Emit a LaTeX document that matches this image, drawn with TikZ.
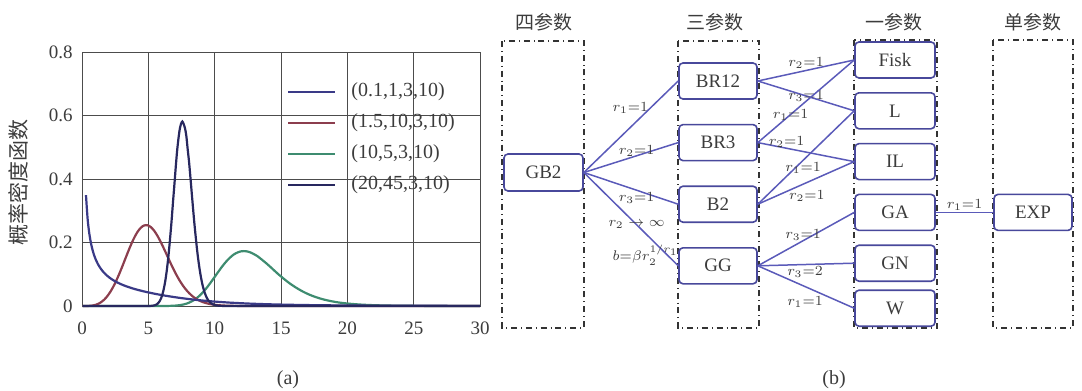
\documentclass[tikz,border=0pt]{standalone}
\usepackage{fontspec}
\setmainfont{Liberation Serif}
\newfontfamily\cjk{Noto Sans CJK SC}
\usetikzlibrary{positioning}

\definecolor{edgeblue}{RGB}{90,90,185}
\definecolor{boxblue}{RGB}{72,72,155}
\definecolor{curvenavy}{RGB}{58,58,135}
\definecolor{curvered}{RGB}{140,62,78}
\definecolor{curvegreen}{RGB}{62,140,112}
\definecolor{curvedark}{RGB}{40,40,95}
\definecolor{inkgray}{RGB}{60,60,60}

\tikzset{
  distbox/.style={rectangle, draw=boxblue, line width=0.8pt, rounded corners=2pt,
    minimum width=39pt, minimum height=18pt, font=\fontsize{9.5}{11}\selectfont, text=inkgray},
  frame/.style={draw=black!80, dash dot, line width=0.6pt},
  link/.style={draw=edgeblue, line width=0.75pt},
  lbl/.style={font=\fontsize{7.5}{8}\selectfont, inner sep=0.5pt, text=inkgray},
  head/.style={font=\cjk\fontsize{9.5}{10}\selectfont, text=inkgray},
  gridline/.style={draw=black!70, line width=0.5pt},
  ticklbl/.style={font=\fontsize{9.5}{11}\selectfont, text=inkgray, inner sep=0pt},
  curve/.style={line width=1.1pt},
  legtext/.style={font=\fontsize{10}{11}\selectfont, text=inkgray, anchor=west, inner sep=0pt},
}

\begin{document}
\begin{tikzpicture}[x=0.5pt, y=-0.5pt,
  declare function={gbt(\x,\p,\q,\m)=exp(max(ln(3)+(3*\p-1)*ln(\x)-3*\p*ln(10)-\m-(\p+\q)*ln(1+(\x/10)^3),-12));}]
\useasboundingbox (0,0) rectangle (1082,391);

% (a) density curves
\begin{scope}[shift={(82,306)}, xscale=13.27, yscale=-317.5]
\foreach \gx in {5,10,...,25}
  \draw[gridline] (\gx,0) -- (\gx,0.8);
\foreach \gy in {0.2,0.4,0.6}
  \draw[gridline] (0,\gy) -- (30,\gy);
\draw[gridline] (0,0) rectangle (30,0.8);
\foreach \gx in {0,5,...,30}
  \node[ticklbl] at (\gx,-0.069) {\gx};
\foreach \gy in {0,0.2,0.4,0.6,0.8}
  \node[ticklbl, anchor=east] at (-0.68,\gy) {\gy};
\draw[curve, curvegreen] plot[domain=0.05:30, samples=240, smooth] (\x, {gbt(\x,10,5,-9.211340)});
\draw[curve, curvered] plot[domain=0.05:30, samples=240, smooth] (\x, {gbt(\x,1.5,10,-3.610960)});
\draw[curve, curvenavy] plot[domain=0.3:30, samples=240, smooth] (\x, {gbt(\x,0.1,1,2.302585)});
\draw[curve, curvedark] plot[domain=0.05:30, samples=300, smooth] (\x, {gbt(\x,20,45,-40.511038)});
\end{scope}

% legend
\foreach \ly/\lc/\lt [count=\li] in {92/curvenavy/{(0.1,1,3,10)}, 123/curvered/{(1.5,10,3,10)},
    154/curvegreen/{(10,5,3,10)}, 185/curvedark/{(20,45,3,10)}} {
  \draw[curve, \lc, line width=1.2pt] (288,\ly) -- (335,\ly);
  \node[legtext] (leg\li) at (351,\ly) {\lt};
}
\node (ytitle) [head, rotate=90, font=\cjk\fontsize{10.5}{11}\selectfont] at (18,182) {概率密度函数};
\node (capa) [ticklbl, font=\fontsize{10}{11}\selectfont] at (288,380) {(a)};

% (b) parameter tree
\draw[frame] (502,41) rectangle (584,328);
\draw[frame] (678,41) rectangle (759,328);
\draw[frame] (854,40) rectangle (937,328);
\draw[frame] (993,40) rectangle (1073,328);

\node (hfour) [head] at (544,22) {四参数};
\node (hthree) [head] at (715,22) {三参数};
\node (hone) [head] at (894,22) {一参数};
\node (hsingle) [head] at (1033,22) {单参数};

\node (gbtwo) [distbox, minimum width=39.5pt, minimum height=18.5pt] at (543.5,172.5) {GB2};

\node (brtwelve) [distbox] at (718,81) {BR12};
\node (brthree) [distbox, below of=brtwelve, node distance=30.8pt] {BR3};
\node (btwo) [distbox, below of=brthree, node distance=30.8pt] {B2};
\node (gg) [distbox, below of=btwo, node distance=30.8pt] {GG};

\node (fisk) [distbox, minimum width=40pt] at (895,60) {Fisk};
\node (lg) [distbox, minimum width=40pt, below of=fisk, node distance=25.4pt] {L};
\node (il) [distbox, minimum width=40pt, below of=lg, node distance=25.4pt] {IL};
\node (ga) [distbox, minimum width=40pt, below of=il, node distance=25.4pt] {GA};
\node (gn) [distbox, minimum width=40pt, below of=ga, node distance=25.4pt] {GN};
\node (wb) [distbox, minimum width=40pt, below of=gn, node distance=22.5pt] {W};

\node (expo) [distbox, right of=ga, node distance=69pt] {EXP};

\draw[link] (gbtwo.east) -- node[lbl, pos=0.7, anchor=east] {$r_1{=}1$} (brtwelve.west);
\draw[link] (gbtwo.east) -- node[lbl, pos=0.56, yshift=2.5pt] {$r_2{=}1$} (brthree.west);
\draw[link] (gbtwo.east) -- node[lbl, pos=0.56, below] {$r_3{=}1$} (btwo.west);
\draw[link] (gbtwo.east) -- node[lbl, pos=0.56] {$r_2\to\infty$}
  node[lbl, pos=0.656, below=5pt] {$b{=}\beta r_2^{\scriptscriptstyle 1/r_1}$} (gg.west);

\draw[link] (brtwelve.east) -- node[lbl, pos=0.5, above] {$r_2{=}1$} (fisk.west);
\draw[link] (brtwelve.east) -- node[lbl, pos=0.5] {$r_3{=}1$} (lg.west);
\draw[link] (brthree.east) -- node[lbl, pos=0.34] {$r_1{=}1$} (fisk.west);
\draw[link] (brthree.east) -- node[lbl, pos=0.3, yshift=3pt] {$r_2{=}1$} (il.west);
\draw[link] (btwo.east) -- node[lbl, pos=0.47, below] {$r_1{=}1$} (lg.west);
\draw[link] (btwo.east) -- node[lbl, pos=0.51, below=3pt] {$r_2{=}1$} (il.west);
\draw[link] (gg.east) -- node[lbl, pos=0.47, yshift=3pt] {$r_3{=}1$} (ga.west);
\draw[link] (gg.east) -- node[lbl, pos=0.49, below] {$r_3{=}2$} (gn.west);
\draw[link] (gg.east) -- node[lbl, pos=0.49, below=4pt] {$r_1{=}1$} (wb.west);
\draw[link] (ga.east) -- node[lbl, pos=0.5, above] {$r_1{=}1$} (expo.west);

\node (capb) [ticklbl, font=\fontsize{10}{11}\selectfont] at (834,380) {(b)};
\end{tikzpicture}
\end{document}
